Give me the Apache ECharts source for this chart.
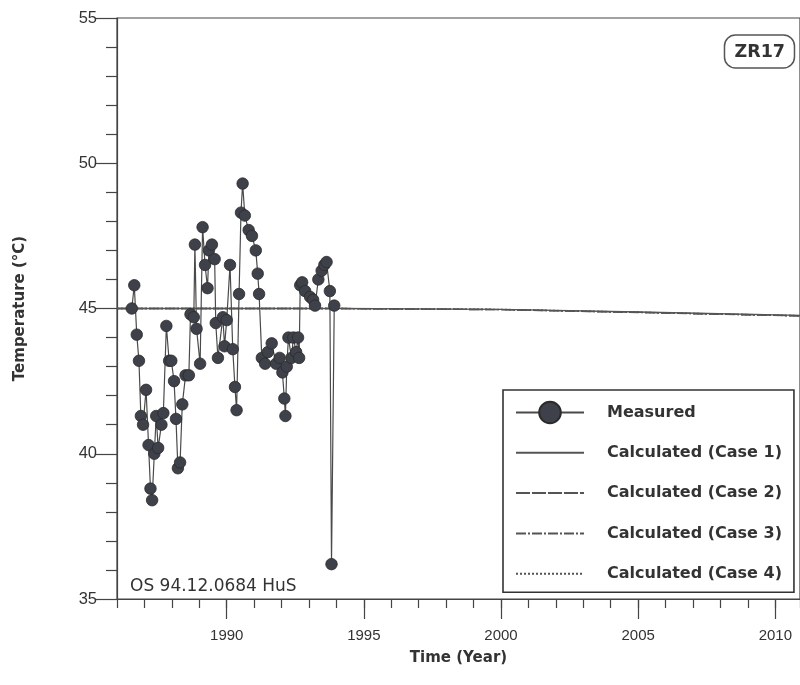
<!DOCTYPE html>
<html>
<head>
<meta charset="utf-8">
<script src="https://cdn.jsdelivr.net/npm/echarts@6/dist/echarts.min.js"></script>
<style>
html,body{margin:0;padding:0;background:#fff;}
#chart{width:800px;height:685px;}
</style>
</head>
<body>
<div id="chart"></div>
<script>
// ---- data ----
const measuredYears = [1986.54,1986.63,1986.72,1986.80,1986.87,1986.95,1987.06,1987.15,1987.22,1987.28,
  1987.36,1987.43,1987.50,1987.62,1987.69,1987.80,1987.90,1987.98,1988.08,1988.15,
  1988.22,1988.30,1988.38,1988.50,1988.62,1988.68,1988.80,1988.84,1988.90,1989.03,
  1989.12,1989.21,1989.30,1989.35,1989.46,1989.56,1989.60,1989.68,1989.86,1989.92,
  1990.00,1990.12,1990.22,1990.30,1990.36,1990.45,1990.52,1990.58,1990.66,1990.80,
  1990.92,1991.06,1991.13,1991.18,1991.28,1991.40,1991.50,1991.64,1991.80,1991.93,
  1992.03,1992.10,1992.14,1992.19,1992.25,1992.36,1992.43,1992.53,1992.60,1992.64,
  1992.68,1992.75,1992.86,1993.04,1993.15,1993.22,1993.34,1993.46,1993.56,1993.64,
  1993.76,1993.82,1993.92];
const measuredTemps = [45.0,45.8,44.1,43.2,41.3,41.0,42.2,40.3,38.8,38.4,
  40.0,41.3,40.2,41.0,41.4,44.4,43.2,43.2,42.5,41.2,
  39.5,39.7,41.7,42.7,42.7,44.8,44.7,47.2,44.3,43.1,
  47.8,46.5,45.7,47.0,47.2,46.7,44.5,43.3,44.7,43.7,
  44.6,46.5,43.6,42.3,41.5,45.5,48.3,49.3,48.2,47.7,
  47.5,47.0,46.2,45.5,43.3,43.1,43.5,43.8,43.1,43.3,
  42.8,41.9,41.3,43.0,44.0,43.3,44.0,43.5,44.0,43.3,
  45.8,45.9,45.6,45.4,45.3,45.1,46.0,46.3,46.5,46.6,
  45.6,36.2,45.1];
const calcYears = [1986, 1994, 2000, 2005, 2011];
const case1 = [45.0, 45.0, 44.97, 44.88, 44.76];
const case2 = [45.0, 45.0, 44.96, 44.87, 44.75];
const case3 = [45.0, 45.0, 44.96, 44.86, 44.74];
const case4 = [45.0, 45.0, 44.97, 44.87, 44.75];
const yTicks = [35, 40, 45, 50, 55];
const xLabelYears = [1990, 1995, 2000, 2005, 2010];
const seriesNames = ['Measured','Calculated (Case 1)','Calculated (Case 2)','Calculated (Case 3)','Calculated (Case 4)'];

const zip = (xs, ys) => xs.map((x, i) => [x, ys[i]]);

const chart = echarts.init(document.getElementById('chart'), null, {renderer: 'canvas'});
const axisColor = '#444';
const numFont = 'Liberation Sans, Arial, sans-serif';
const boldFont = 'DejaVu Sans, sans-serif';
const xMin = 1986, xMax = 2010.9;

const calcLine = (name, data, type) => ({
  name: name, type: 'line', data: zip(calcYears, data), showSymbol: false, symbol: 'none',
  itemStyle: {color: 'rgba(0,0,0,0)', borderWidth: 0},
  lineStyle: {color: '#555', width: 1.4, type: type}, z: 2, silent: true, animation: false
});

chart.setOption({
  animation: false,
  backgroundColor: '#fff',
  title: [
    {text: 'ZR17', right: 5, top: 35,
     borderColor: '#555', borderWidth: 1.5, borderRadius: 11, padding: [8, 10, 7, 10],
     textStyle: {fontFamily: boldFont, fontWeight: 'bold', fontSize: 17.5, color: '#333'}},
    {text: 'OS 94.12.0684 HuS', left: 125, top: 573,
     textStyle: {fontFamily: boldFont, fontWeight: 'normal', fontSize: 17, color: '#333'}}
  ],
  grid: {left: 117, right: 0, top: 18, bottom: 86, show: true, borderColor: axisColor, borderWidth: 1.2},
  legend: {
    orient: 'vertical', left: 503, top: 390,
    data: seriesNames.map((n, i) => i === 0 ? {name: n} : {name: n, itemStyle: {opacity: 0}}),
    itemWidth: 68, itemHeight: 27, itemGap: 13.3,
    padding: [9, 12, 5, 12],
    backgroundColor: '#fff', borderColor: '#333', borderWidth: 1.6, borderRadius: 0,
    selectedMode: false,
    textStyle: {fontFamily: boldFont, fontWeight: 'bold', fontSize: 16, color: '#333',
                padding: [0, 0, 0, 18], lineHeight: 27, height: 27, verticalAlign: 'middle'}
  },
  xAxis: [
    {type: 'value', min: xMin, max: xMax, interval: 1, position: 'bottom',
     axisLine: {show: true, lineStyle: {color: axisColor, width: 1.2}},
     axisTick: {show: true, inside: false, length: 9, lineStyle: {color: axisColor, width: 1.2}},
     axisLabel: {show: false}, splitLine: {show: false}},
    {type: 'value', min: xMin, max: xMax, position: 'bottom',
     name: 'Time (Year)', nameLocation: 'middle', nameGap: 52,
     nameTextStyle: {fontFamily: boldFont, fontWeight: 'bold', fontSize: 15, color: '#333'},
     axisLine: {show: false},
     axisTick: {show: true, inside: false, length: 20, customValues: xLabelYears, lineStyle: {color: axisColor, width: 1.2}},
     axisLabel: {show: true, margin: 29, customValues: xLabelYears, formatter: v => String(v),
                 fontFamily: numFont, fontSize: 15, color: '#333'},
     splitLine: {show: false}}
  ],
  yAxis: {
    type: 'value', min: yTicks[0], max: yTicks[yTicks.length - 1], interval: 5,
    name: 'Temperature (°C)', nameLocation: 'middle', nameGap: 89, nameRotate: 90,
    nameTextStyle: {fontFamily: boldFont, fontWeight: 'bold', fontSize: 15, color: '#333'},
    axisLine: {show: true, lineStyle: {color: axisColor, width: 1.2}},
    axisTick: {show: true, inside: false, length: 22, lineStyle: {color: axisColor, width: 1.2}},
    minorTick: {show: true, splitNumber: 5, length: 11, lineStyle: {color: axisColor, width: 1.2}},
    axisLabel: {margin: 20, fontFamily: numFont, fontSize: 16.5, color: '#333'},
    splitLine: {show: false}
  },
  series: [
    {name: seriesNames[0], type: 'line', data: zip(measuredYears, measuredTemps),
     symbol: 'circle', symbolSize: 11.5, showAllSymbol: true,
     lineStyle: {color: '#4a4a4a', width: 1.2},
     itemStyle: {color: '#3e4149', borderColor: '#2b2b2b', borderWidth: 0.8},
     z: 5, silent: true, animation: false},
    calcLine(seriesNames[1], case1, 'solid'),
    calcLine(seriesNames[2], case2, [14, 2]),
    calcLine(seriesNames[3], case3, [10, 2, 2, 2]),
    calcLine(seriesNames[4], case4, [2, 2])
  ]
});
</script>
</body>
</html>
